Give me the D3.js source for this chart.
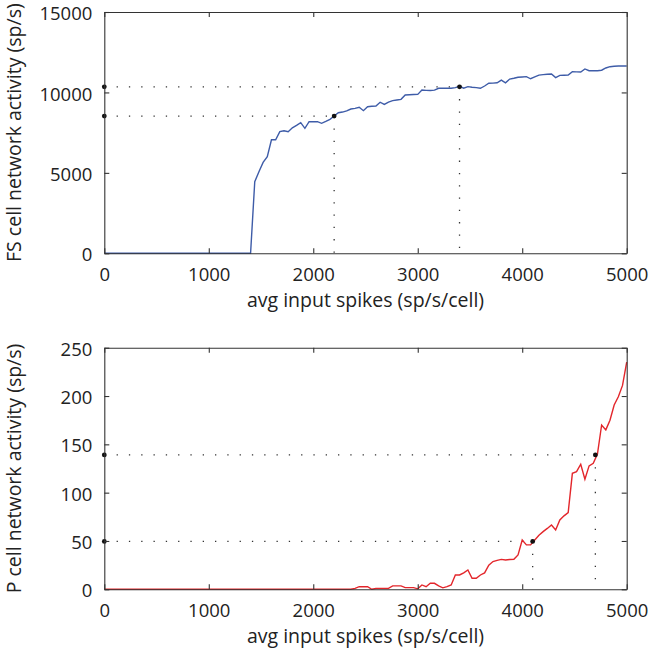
<!DOCTYPE html>
<html>
<head>
<meta charset="utf-8">
<script src="https://cdn.jsdelivr.net/npm/d3@7"></script>
<style>
  body { margin: 0; background: #fff; }
  svg text { font-family: "Open Sans", sans-serif; fill: #222; }
</style>
</head>
<body>
<svg id="canvas" width="652" height="653"></svg>
<script>
// input rate grid (sp/s/cell), one sample every 40
let inputRates = d3.range(0, 5001, 40);

// FS cell network activity (sp/s)
let fsActivity = [
    0, 0, 0, 0, 0, 0, 0, 0, 0, 0, 0, 0, 0, 0, 0, 0, 0, 0,
    0, 0, 0, 0, 0, 0, 0, 0, 0, 0, 0, 0, 0, 0, 0, 0, 0, 0,
    4450, 5070, 5650, 6000, 7060, 7060, 7560, 7620, 7560, 7800,
    7950, 8120, 7770, 8180, 8180, 8180, 8080, 8200, 8330, 8535,
    8740, 8780, 8850, 8970, 9010, 9075, 8865, 9110, 9140, 9160,
    9390, 9260, 9400, 9490, 9530, 9570, 9840, 9860, 9870, 9880,
    10150, 10130, 10120, 10140, 10260, 10260, 10260, 10260, 10300, 10380,
    10260, 10360, 10320, 10300, 10260, 10400, 10570, 10580, 10600, 10770,
    10600, 10830, 10880, 10940, 10960, 10980, 10850, 10970, 11080, 11110,
    11130, 11150, 10920, 11060, 11070, 11080, 11290, 11280, 11270, 11460,
    11350, 11350, 11350, 11380, 11520, 11600, 11630, 11640, 11640, 11640
];

// P cell network activity (sp/s)
let pActivity = [
    0, 0, 0, 0, 0, 0, 0, 0, 0, 0, 0, 0, 0, 0, 0, 0, 0, 0, 0, 0,
    0, 0, 0, 0, 0, 0, 0, 0, 0, 0, 0, 0, 0, 0, 0, 0, 0, 0, 0, 0,
    0, 0, 0, 0, 0, 0, 0, 0, 0, 0, 0, 0, 0, 0, 0, 0, 0, 0, 0, 0,
    1, 2.7, 2.7, 2.7, 0, 1, 1, 1, 1, 3.5,
    3.5, 3.5, 1.7, 1.7, 1.7, 0.5, 4.5, 2.7, 6.2, 6.2,
    3.5, 1.5, 2.7, 4.5, 14.8, 14.8, 17, 20, 11.4, 11.4,
    14.8, 17, 25, 28.7, 30, 31, 30.4, 30.8, 31.1, 35.6,
    51, 46, 46, 51, 56, 59.7, 63, 66.6, 61.4, 71.8,
    76, 79.4, 120, 121.8, 129.4, 113.9, 127.7, 130.4, 140, 170,
    165, 175, 190.7, 199.3, 211, 235
];

// operating points marked with dotted guides
let fsMarks = [[2200, 8530], [3400, 10350]];
let pMarks = [[4100, 49.5], [4700, 139]];

let xTicks = [0, 1000, 2000, 3000, 4000, 5000];
let fsTicks = [0, 5000, 10000, 15000];
let pTicks = [0, 50, 100, 150, 200, 250];

let canvas = d3.select("#canvas");

let left = 104.3, right = 626.7;

let drawPanel = (top, bottom, yMax, yTicks, values, marks, color, yLabel) => {
    let x = d3.scaleLinear().domain([0, 5000]).range([left, right]);
    let y = d3.scaleLinear().domain([0, yMax]).range([bottom, top]);
    let g = canvas.append("g");

    // dotted guide lines
    marks.forEach(m => {
        g.append("line")
            .attr("x1", x(0)).attr("x2", x(m[0]))
            .attr("y1", y(m[1])).attr("y2", y(m[1]))
            .attr("stroke", "#333").attr("stroke-width", 1.3)
            .attr("stroke-dasharray", "1.3,11");
        g.append("line")
            .attr("x1", x(m[0])).attr("x2", x(m[0]))
            .attr("y1", y(m[1])).attr("y2", y(0))
            .attr("stroke", "#333").attr("stroke-width", 1.3)
            .attr("stroke-dasharray", "1.3,11");
    });

    let line = d3.line()
        .x((d, i) => x(inputRates[i]))
        .y(d => y(d));

    g.append("path")
        .datum(values)
        .attr("d", line)
        .attr("fill", "none")
        .attr("stroke", color)
        .attr("stroke-width", 1.4);

    // dots at the axis and on the curve
    let dots = [];
    marks.forEach(m => { dots.push([0, m[1]]); dots.push(m); });
    g.selectAll("circle")
        .data(dots)
        .enter()
        .append("circle")
        .attr("cx", d => x(d[0]))
        .attr("cy", d => y(d[1]))
        .attr("r", 2.4)
        .attr("fill", "#111");

    // box with inward ticks on all four sides
    let styleAxis = (sel) => {
        sel.selectAll("path, line").attr("stroke", "#333").attr("stroke-width", 1.1);
        sel.selectAll("text").style("font-size", "18.5px").attr("fill", "#222");
    };

    g.append("g").attr("transform", `translate(0,${bottom})`)
        .call(d3.axisBottom(x).tickValues(xTicks).tickFormat(d3.format("d"))
            .tickSizeInner(-5).tickSizeOuter(0).tickPadding(15))
        .call(styleAxis);
    g.append("g").attr("transform", `translate(0,${top})`)
        .call(d3.axisTop(x).tickValues(xTicks).tickFormat("")
            .tickSizeInner(-5).tickSizeOuter(0))
        .call(styleAxis);
    g.append("g").attr("transform", `translate(${left},0)`)
        .call(d3.axisLeft(y).tickValues(yTicks).tickFormat(d3.format("d"))
            .tickSizeInner(-5).tickSizeOuter(0).tickPadding(12))
        .call(styleAxis)
        .call(a => a.selectAll("text").attr("dy", "0.41em"));
    g.append("g").attr("transform", `translate(${right},0)`)
        .call(d3.axisRight(y).tickValues(yTicks).tickFormat("")
            .tickSizeInner(-5).tickSizeOuter(0))
        .call(styleAxis);

    g.selectAll(".domain").attr("fill", "none");

    g.append("text")
        .attr("x", (left + right) / 2)
        .attr("y", bottom + 54)
        .attr("text-anchor", "middle")
        .style("font-size", "19.5px")
        .text("avg input spikes (sp/s/cell)");

    g.append("text")
        .attr("transform", `translate(21,${(top + bottom) / 2}) rotate(-90)`)
        .attr("text-anchor", "middle")
        .style("font-size", "19.5px")
        .text(yLabel);
};

drawPanel(12, 253.3, 15000, fsTicks, fsActivity, fsMarks, "#3e5ca8", "FS cell network activity (sp/s)");
drawPanel(347.7, 589.3, 250, pTicks, pActivity, pMarks, "#e3262b", "P cell network activity (sp/s)");
</script>
</body>
</html>
